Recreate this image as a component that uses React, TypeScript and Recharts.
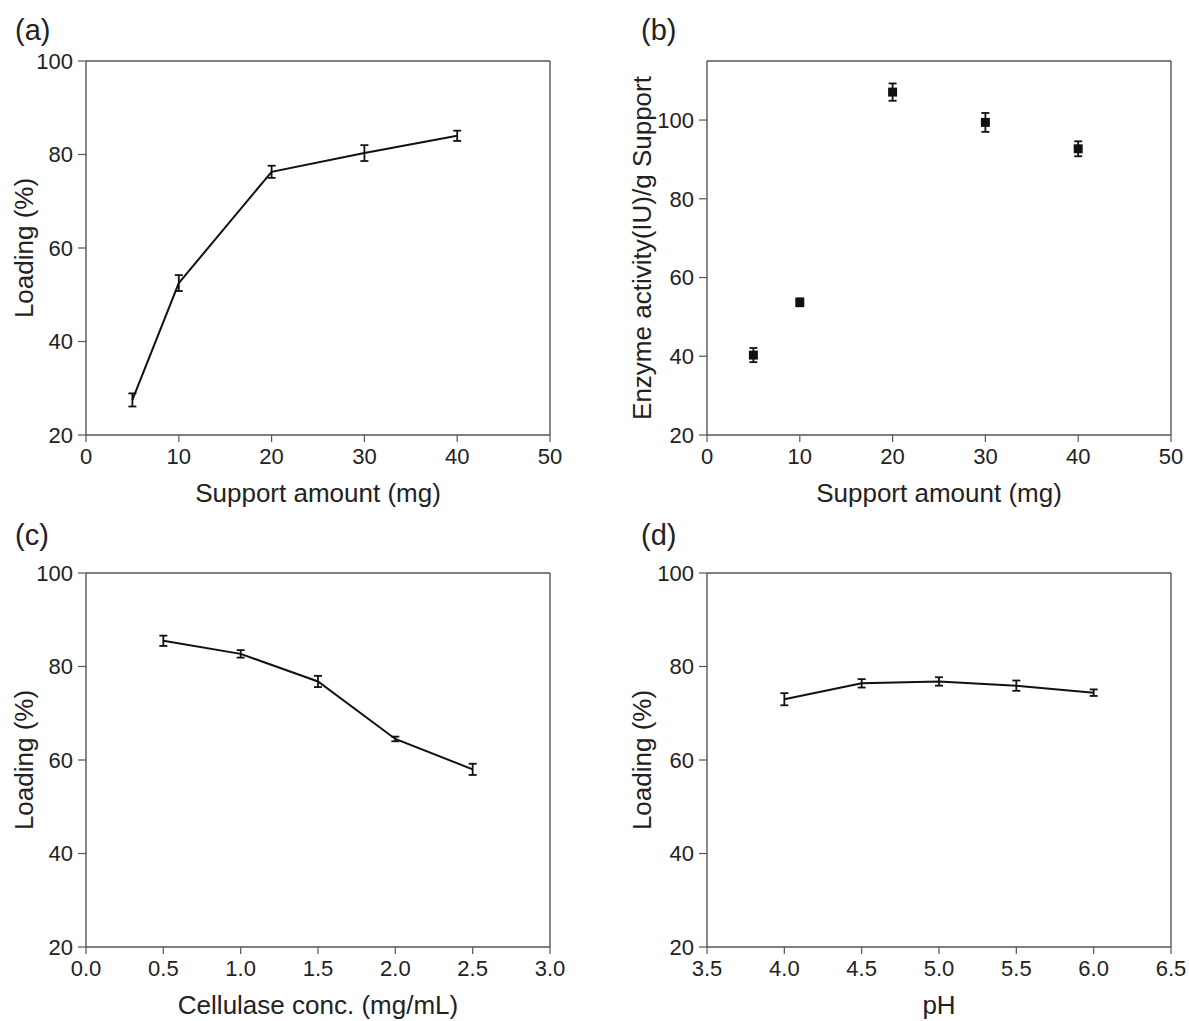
import React from 'react';
import {
  LineChart,
  Line,
  ScatterChart,
  Scatter,
  XAxis,
  YAxis,
  ZAxis,
  ErrorBar,
  ReferenceLine,
} from 'recharts';

// Four-panel figure: immobilized cellulase loading / activity

const FONT = "'Liberation Sans', Arial, Helvetica, sans-serif";
const AXIS = '#555555';
const INK = '#111111';
const TEXT = '#222222';

// (a) loading vs support amount
const supportAmounts = [5, 10, 20, 30, 40];
const loadingBySupport = [27.5, 52.5, 76.3, 80.3, 84.0];
const loadingBySupportErr = [1.4, 1.7, 1.3, 1.7, 1.1];

// (b) enzyme activity per g support vs support amount
const activityBySupport = [40.3, 53.7, 107.1, 99.4, 92.7];
const activityBySupportErr = [1.8, 1.0, 2.2, 2.4, 1.9];

// (c) loading vs cellulase concentration
const cellulaseConc = [0.5, 1.0, 1.5, 2.0, 2.5];
const loadingByConc = [85.5, 82.7, 76.8, 64.5, 58.0];
const loadingByConcErr = [1.1, 0.8, 1.2, 0.5, 1.2];

// (d) loading vs pH
const phValues = [4.0, 4.5, 5.0, 5.5, 6.0];
const loadingByPh = [73.0, 76.4, 76.8, 75.9, 74.4];
const loadingByPhErr = [1.3, 0.9, 0.9, 1.1, 0.7];

// tick labels
const supportTicks = [0, 10, 20, 30, 40, 50];
const concTicks = [0, 0.5, 1.0, 1.5, 2.0, 2.5, 3.0];
const phTicks = [3.5, 4.0, 4.5, 5.0, 5.5, 6.0, 6.5];
const percentTicks = [20, 40, 60, 80, 100];

function toRows(xs: number[], ys: number[], errs: number[]) {
  return xs.map((x, i) => ({ x, y: ys[i], err: errs[i] }));
}

const tickText = { fontSize: 22, fill: TEXT };
const axisLine = { stroke: AXIS, strokeWidth: 1.4 };
const tickLine = { stroke: AXIS, strokeWidth: 1.2 };

// top and right edges of the frame
function frame(xMax: number, yMax: number) {
  return [
    <ReferenceLine key="top" y={yMax} stroke={AXIS} strokeWidth={1.4} ifOverflow="visible" />,
    <ReferenceLine key="right" x={xMax} stroke={AXIS} strokeWidth={1.4} ifOverflow="visible" />,
  ];
}

function bottomAxis(domain: number[], ticks: number[], title: string, height: number, fixed?: number) {
  return (
    <XAxis
      dataKey="x"
      type="number"
      domain={domain}
      ticks={ticks}
      interval={0}
      height={height}
      tickSize={7}
      tickMargin={6}
      tick={tickText}
      axisLine={axisLine}
      tickLine={tickLine}
      tickFormatter={(v: number) => (fixed ? v.toFixed(fixed) : String(v))}
      label={{
        value: title,
        position: 'insideBottom',
        offset: height - 67,
        style: { fontSize: 26, fill: TEXT },
      }}
    />
  );
}

function leftAxis(domain: number[], title: string, width: number, titleX: number) {
  return (
    <YAxis
      dataKey="y"
      type="number"
      domain={domain}
      ticks={percentTicks}
      interval={0}
      width={width}
      tickSize={8}
      tickMargin={5}
      tick={tickText}
      axisLine={axisLine}
      tickLine={tickLine}
      label={{
        value: title,
        angle: -90,
        position: 'insideLeft',
        offset: titleX,
        style: { fontSize: 26, fill: TEXT, textAnchor: 'middle' },
      }}
    />
  );
}

function PanelLabel({ text, left, top }: { text: string; left: number; top: number }) {
  return (
    <div style={{ position: 'absolute', left, top, fontSize: 29, lineHeight: '29px', color: TEXT }}>
      {text}
    </div>
  );
}

function errorBars() {
  return <ErrorBar dataKey="err" direction="y" width={4} stroke={INK} strokeWidth={1.8} />;
}

export default function App() {
  const rowsA = toRows(supportAmounts, loadingBySupport, loadingBySupportErr);
  const rowsB = toRows(supportAmounts, activityBySupport, activityBySupportErr);
  const rowsC = toRows(cellulaseConc, loadingByConc, loadingByConcErr);
  const rowsD = toRows(phValues, loadingByPh, loadingByPhErr);

  return (
    <div
      style={{
        position: 'absolute',
        left: 0,
        top: 0,
        width: 1189,
        height: 1021,
        background: '#fff',
        fontFamily: FONT,
      }}
    >
      <PanelLabel text="(a)" left={15} top={16} />
      <PanelLabel text="(b)" left={641} top={16} />
      <PanelLabel text="(c)" left={15} top={521} />
      <PanelLabel text="(d)" left={641} top={521} />

      {/* (a) */}
      <div style={{ position: 'absolute', left: 0, top: 0 }}>
        <LineChart width={580} height={510} data={rowsA} margin={{ top: 61, right: 30, bottom: 0, left: 0 }}>
          {bottomAxis([0, 50], supportTicks, 'Support amount (mg)', 75)}
          {leftAxis([20, 100], 'Loading (%)', 86, 24)}
          {frame(50, 100)}
          <Line
            type="linear"
            dataKey="y"
            stroke={INK}
            strokeWidth={2}
            dot={false}
            activeDot={false}
            isAnimationActive={false}
          >
            {errorBars()}
          </Line>
        </LineChart>
      </div>

      {/* (b) */}
      <div style={{ position: 'absolute', left: 600, top: 0 }}>
        <ScatterChart width={589} height={510} margin={{ top: 61, right: 18, bottom: 0, left: 0 }}>
          {bottomAxis([0, 50], supportTicks, 'Support amount (mg)', 75)}
          {leftAxis([20, 115], 'Enzyme activity(IU)/g Support', 107, 42)}
          <ZAxis range={[81, 81]} />
          {frame(50, 115)}
          <Scatter data={rowsB} dataKey="y" fill={INK} shape="square" isAnimationActive={false}>
            {errorBars()}
          </Scatter>
        </ScatterChart>
      </div>

      {/* (c) */}
      <div style={{ position: 'absolute', left: 0, top: 520 }}>
        <LineChart width={580} height={501} data={rowsC} margin={{ top: 53, right: 30, bottom: 0, left: 0 }}>
          {bottomAxis([0, 3], concTicks, 'Cellulase conc. (mg/mL)', 74, 1)}
          {leftAxis([20, 100], 'Loading (%)', 86, 24)}
          {frame(3, 100)}
          <Line
            type="linear"
            dataKey="y"
            stroke={INK}
            strokeWidth={2}
            dot={false}
            activeDot={false}
            isAnimationActive={false}
          >
            {errorBars()}
          </Line>
        </LineChart>
      </div>

      {/* (d) */}
      <div style={{ position: 'absolute', left: 600, top: 520 }}>
        <LineChart width={589} height={501} data={rowsD} margin={{ top: 53, right: 18, bottom: 0, left: 0 }}>
          {bottomAxis([3.5, 6.5], phTicks, 'pH', 74, 1)}
          {leftAxis([20, 100], 'Loading (%)', 107, 42)}
          {frame(6.5, 100)}
          <Line
            type="linear"
            dataKey="y"
            stroke={INK}
            strokeWidth={2}
            dot={false}
            activeDot={false}
            isAnimationActive={false}
          >
            {errorBars()}
          </Line>
        </LineChart>
      </div>
    </div>
  );
}
